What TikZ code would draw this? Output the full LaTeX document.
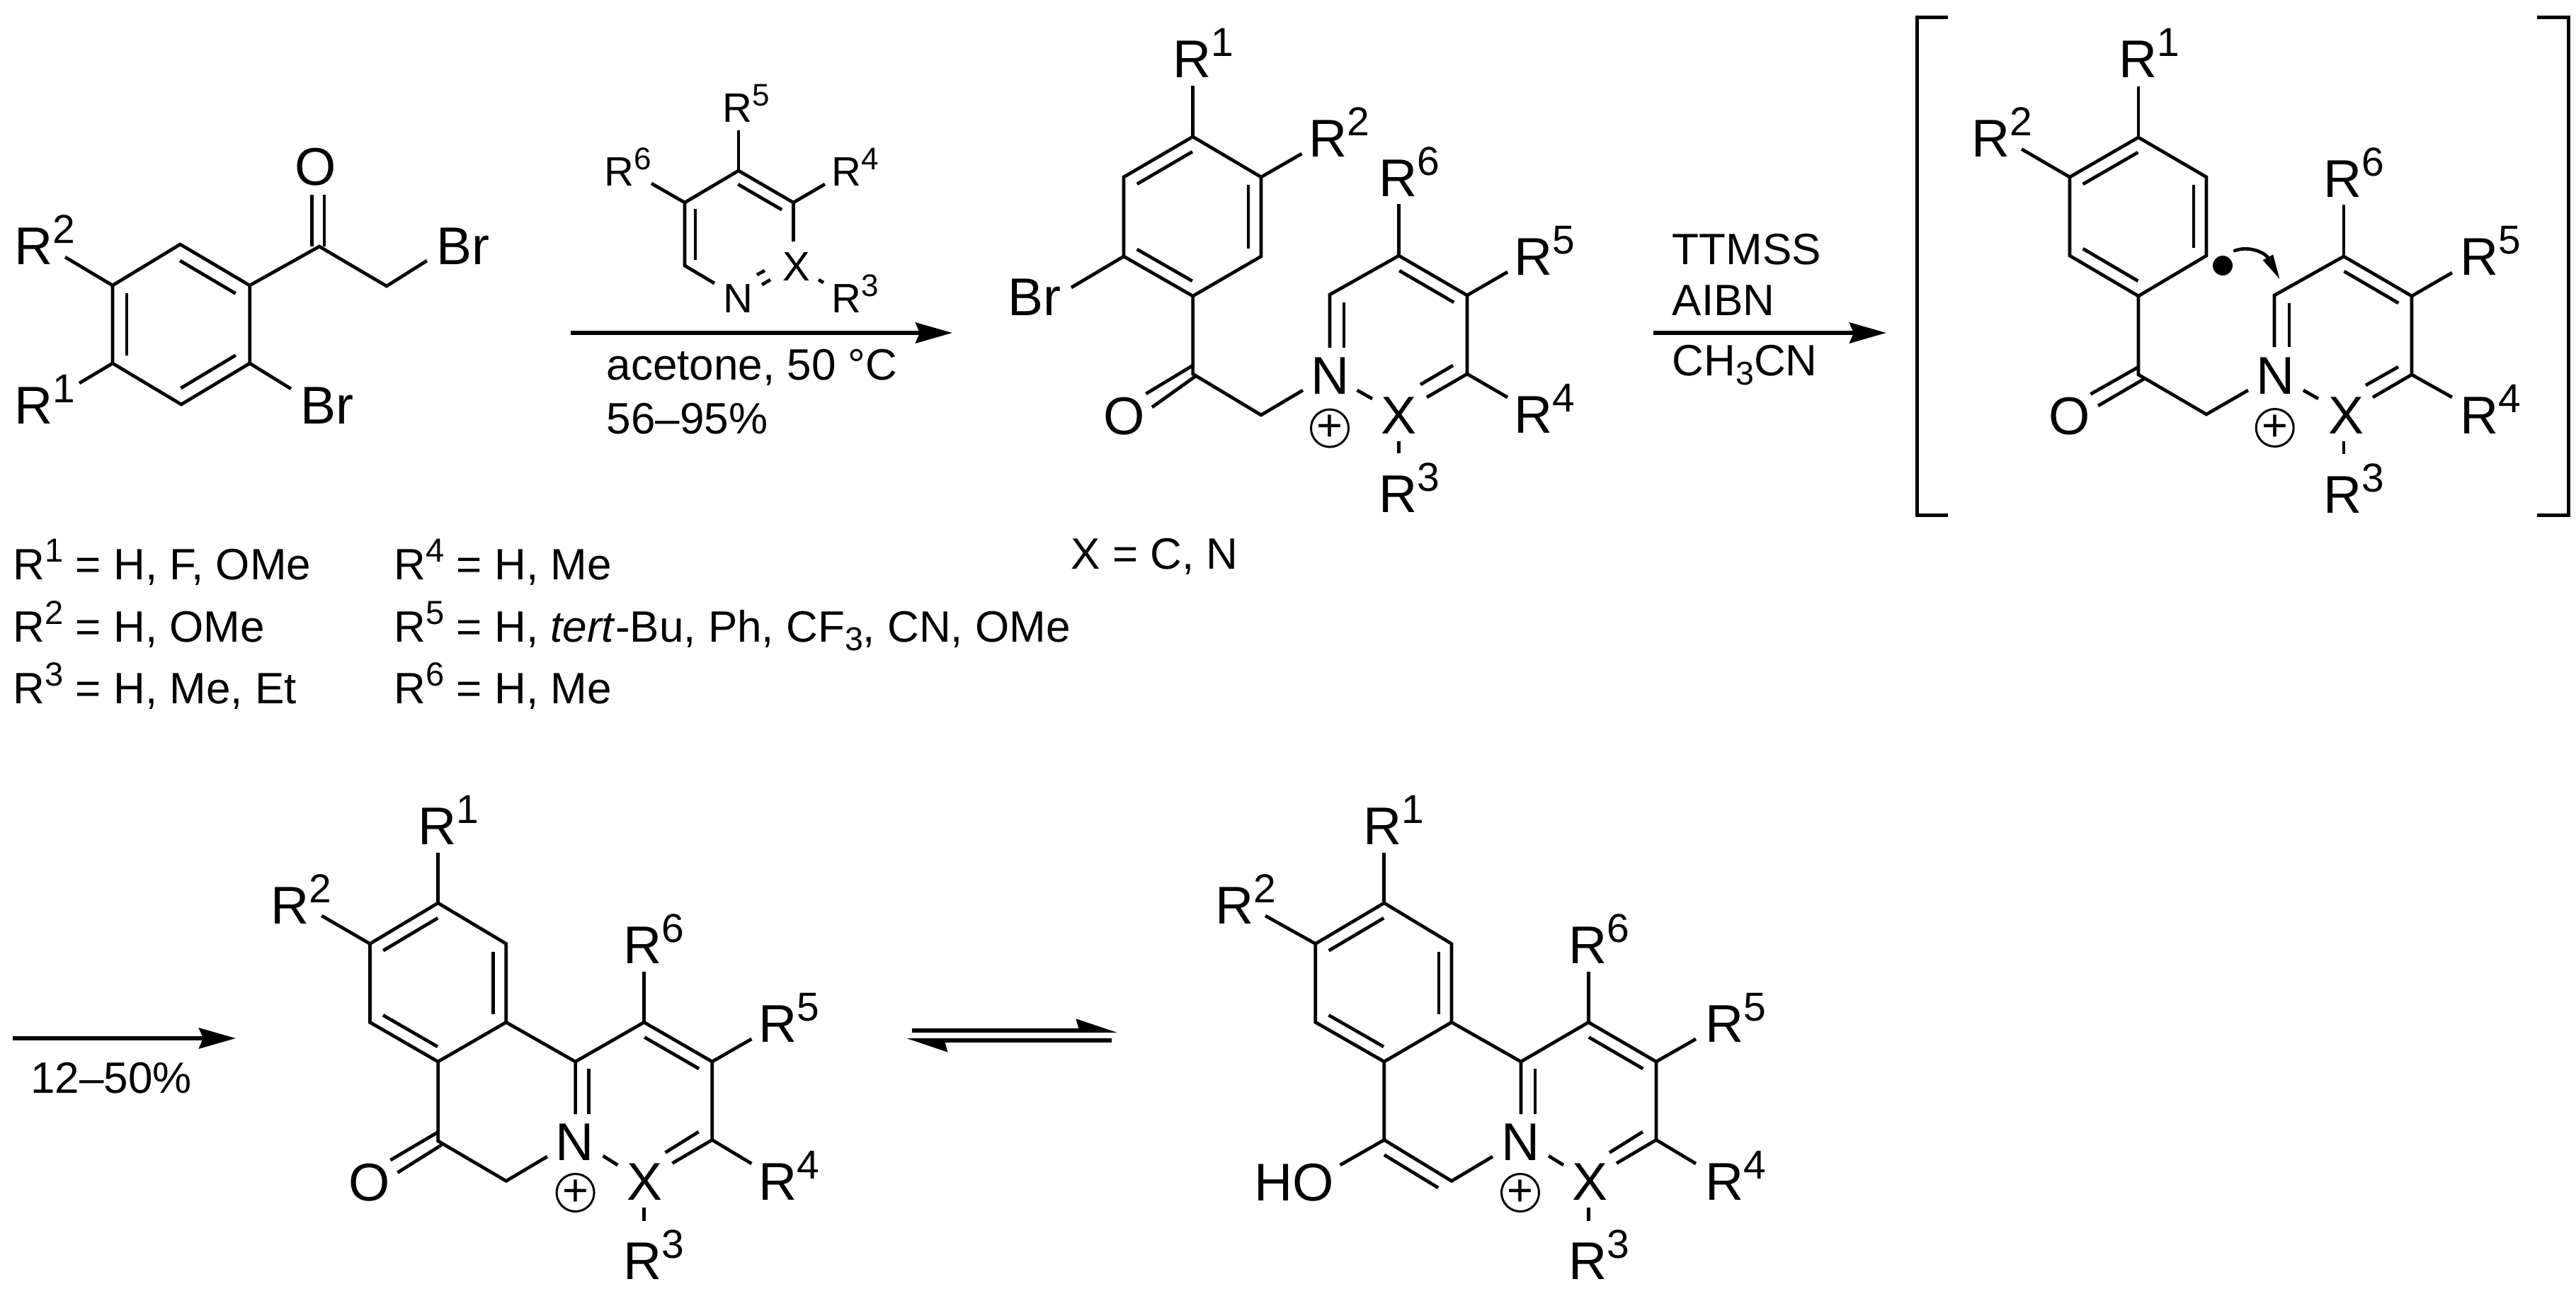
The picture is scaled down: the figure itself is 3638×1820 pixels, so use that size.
\documentclass[tikz,border=0pt]{standalone}
\usepackage{fontspec}
\setmainfont{Liberation Sans}
\usetikzlibrary{arrows.meta,calc}

\newcommand{\rg}[1]{R\raisebox{0.4em}{\scalebox{0.76}{#1}}}
\newcommand{\lowr}[1]{\raisebox{-0.2em}{\scalebox{0.75}{#1}}}
% inner line of a double bond, ring walked clockwise
\newcommand{\inbond}[3][2mm]{\draw[bond] ($(#2)!0.1!(#3)!#1!-90:(#3)$) -- ($(#3)!0.1!(#2)!#1!90:(#2)$);}

\tikzset{
	bond/.style={line width=0.47mm},
	rxn/.style={line width=0.55mm,-{Stealth[length=5.2mm,width=2.9mm,inset=0.6mm]}},
	eqm/.style={line width=0.58mm,-{Stealth[harpoon,length=4.9mm,width=3.2mm,inset=0.4mm]}},
	brk/.style={line width=0.5mm},
	atm/.style={anchor=base west,inner sep=0pt,xshift=-0.5mm,font=\fontsize{21.34}{24}\selectfont},
	sml/.style={anchor=base west,inner sep=0pt,xshift=-0.4mm,font=\fontsize{16.5}{18}\selectfont},
	txt/.style={anchor=base west,inner sep=0pt,xshift=-0.3mm,font=\fontsize{17.64}{20}\selectfont},
	chg/.style={circle,draw,line width=0.3mm,minimum size=5.3mm,inner sep=0pt,font=\fontsize{18}{18}\selectfont},
}

\begin{document}
\begin{tikzpicture}[x=0.1mm,y=-0.1mm]
	\useasboundingbox (0,0) rectangle (3638,1820);

	% bromoketone
	\coordinate (a1) at (254.5,345);
	\coordinate (a2) at (352.7,403);
	\coordinate (a3) at (352.7,513);
	\coordinate (a4) at (256,571);
	\coordinate (a5) at (159,513);
	\coordinate (a6) at (159,403);
	\coordinate (ac) at (451,348);
	\coordinate (am) at (546,404);
	\coordinate (aoa) at (440.5,348);
	\coordinate (aob) at (440.5,275);
	\coordinate (aoc) at (458,348);
	\coordinate (aod) at (458,275);
	\coordinate (abr) at (603,368);
	\coordinate (arb) at (92,363);
	\coordinate (ara) at (112,541);
	\coordinate (abs) at (411,549);
	\node[atm] (aO) at (421,262) {O};
	\node[atm] (aBr) at (621,374) {Br};
	\node[atm] (aR2) at (25,374) {\rg{2}};
	\node[atm] (aR1) at (25,598) {\rg{1}};
	\node[atm] (aBs) at (429,598) {Br};
	\draw[bond] (a1)--(a2)--(a3)--(a4)--(a5)--(a6)--cycle;
	\inbond{a1}{a2}
	\inbond{a3}{a4}
	\inbond{a5}{a6}
	\draw[bond] (a2)--(ac)--(am)--(abr);
	\draw[bond] (aoa)--(aob);
	\draw[bond] (aoc)--(aod);
	\draw[bond] (a6)--(arb);
	\draw[bond] (a5)--(ara);
	\draw[bond] (a3)--(abs);

	% reagent above the first arrow
	\coordinate (p1) at (1043,241);
	\coordinate (p2) at (1120.5,286);
	\coordinate (p3) at (967,286);
	\coordinate (p4) at (967,375);
	\coordinate (p5) at (1120.5,341);
	\coordinate (p6) at (1009,400);
	\coordinate (pr5) at (1043,184);
	\coordinate (pr6) at (920,259);
	\coordinate (pr4) at (1165,260);
	\coordinate (pia) at (982,295);
	\coordinate (pib) at (982,367);
	\coordinate (pda) at (1080,382);
	\coordinate (pdb) at (1069,388);
	\coordinate (pdc) at (1088,395);
	\coordinate (pdd) at (1076,402);
	\coordinate (pxa) at (1156,395);
	\coordinate (pxb) at (1163,399);
	\node[sml] (pN) at (1025,441) {N};
	\node[sml] (pX) at (1109,397) {X};
	\node[sml] (pR3) at (1178,442) {\rg{3}};
	\node[sml] (pR4) at (1178,263) {\rg{4}};
	\node[sml] (pR5) at (1024,173) {\rg{5}};
	\node[sml] (pR6) at (857,263) {\rg{6}};
	\draw[bond] (p5)--(p2)--(p1)--(p3)--(p4)--(p6);
	\inbond[1.7mm]{p1}{p2}
	\draw[bond] (pia)--(pib);
	\draw[bond] (p1)--(pr5);
	\draw[bond] (p3)--(pr6);
	\draw[bond] (p2)--(pr4);
	\draw[bond] (pda)--(pdb);
	\draw[bond] (pdc)--(pdd);
	\draw[bond] (pxa)--(pxb);

	% first arrow
	\coordinate (ra) at (806,470);
	\coordinate (rb) at (1345,470);
	\draw[rxn] (ra)--(rb);
	\node[txt] (cond) at (859,536) {acetone, 50 °C};
	\node[txt] (yld) at (859,612) {56–95\%};

	% substituent list
	\node[txt] (l1) at (21,818) {\rg{1} = H, F, OMe};
	\node[txt] (l2) at (21,906) {\rg{2} = H, OMe};
	\node[txt] (l3) at (21,993) {\rg{3} = H, Me, Et};
	\node[txt] (l4) at (559,818) {\rg{4} = H, Me};
	\node[txt] (l5) at (559,906) {\rg{5} = H, \textit{tert}-Bu, Ph, CF\lowr{3}, CN, OMe};
	\node[txt] (l6) at (559,993) {\rg{6} = H, Me};
	\node[txt] (lx) at (1515,803) {X = C, N};

	% salt
	\coordinate (s1) at (1684.6,193);
	\coordinate (s2) at (1781,250);
	\coordinate (s3) at (1781,362);
	\coordinate (s4) at (1684.6,418);
	\coordinate (s5) at (1587,362);
	\coordinate (s6) at (1587,250);
	\coordinate (sc) at (1684.6,528);
	\coordinate (sm) at (1781,586);
	\coordinate (sn) at (1840,551);
	\coordinate (soa) at (1684.6,516);
	\coordinate (sob) at (1618.4,556);
	\coordinate (soc) at (1688.6,531);
	\coordinate (sod) at (1627,575);
	\coordinate (sr1) at (1684.6,121);
	\coordinate (sr2) at (1838.5,217);
	\coordinate (sbr) at (1513,406);
	\coordinate (t1) at (1975.6,361);
	\coordinate (t2) at (2072,417);
	\coordinate (t3) at (2072,528);
	\coordinate (t4) at (1878,416);
	\coordinate (tna) at (1878,491);
	\coordinate (tia) at (1898,427);
	\coordinate (tib) at (1898,491);
	\coordinate (txa) at (1916.6,551);
	\coordinate (txb) at (1938,563);
	\coordinate (txc) at (2015,561);
	\coordinate (txd) at (2052,516);
	\coordinate (txe) at (2006,543);
	\coordinate (tr4) at (2129,561);
	\coordinate (tr5) at (2129,384);
	\coordinate (tr6) at (1975.6,288);
	\coordinate (tra) at (1975.6,623);
	\coordinate (trb) at (1975.6,640);
	\node[atm] (sO) at (1563,613) {O};
	\node[atm] (sBr) at (1428,445) {Br};
	\node[atm] (sR1) at (1660.7,110) {\rg{1}};
	\node[atm] (sR2) at (1853,222) {\rg{2}};
	\node[atm] (sN) at (1856,556) {N};
	\node[atm] (sX) at (1955,612) {X};
	\node[atm] (sR3) at (1951.7,723) {\rg{3}};
	\node[atm] (sR4) at (2143,611) {\rg{4}};
	\node[atm] (sR5) at (2143,389) {\rg{5}};
	\node[atm] (sR6) at (1951.7,278) {\rg{6}};
	\node[chg] (splus) at (1878,604.6) {+};
	\draw[bond] (s1)--(s2)--(s3)--(s4)--(s5)--(s6)--cycle;
	\inbond[1.8mm]{s6}{s1}
	\inbond[1.8mm]{s2}{s3}
	\inbond[1.8mm]{s4}{s5}
	\draw[bond] (s4)--(sc)--(sm)--(sn);
	\draw[bond] (soa)--(sob);
	\draw[bond] (soc)--(sod);
	\draw[bond] (s1)--(sr1);
	\draw[bond] (s2)--(sr2);
	\draw[bond] (s5)--(sbr);
	\draw[bond] (tna)--(t4)--(t1)--(t2)--(t3)--(txc);
	\inbond[1.8mm]{t1}{t2}
	\draw[bond] (tia)--(tib);
	\draw[bond] (txa)--(txb);
	\draw[bond] (txd)--(txe);
	\draw[bond] (t3)--(tr4);
	\draw[bond] (t2)--(tr5);
	\draw[bond] (t1)--(tr6);
	\draw[bond] (tra)--(trb);

	% second arrow
	\coordinate (rc) at (2335,470);
	\coordinate (rd) at (2664,470);
	\draw[rxn] (rc)--(rd);
	\node[txt] (ttm) at (2364,374) {TTMSS};
	\node[txt] (aib) at (2364,446) {AIBN};
	\node[txt] (mcn) at (2364,531) {CH\lowr{3}CN};

	% brackets
	\coordinate (ba) at (2751,25);
	\coordinate (bb) at (2707,25);
	\coordinate (bc) at (2707,727);
	\coordinate (bd) at (2751,727);
	\coordinate (be) at (3583,25);
	\coordinate (bf) at (3627,25);
	\coordinate (bg) at (3627,727);
	\coordinate (bh) at (3583,727);
	\draw[brk] (ba)--(bb)--(bc)--(bd);
	\draw[brk] (be)--(bf)--(bg)--(bh);

	% radical
	\coordinate (u1) at (3020,194);
	\coordinate (u2) at (3116,250);
	\coordinate (u3) at (3116,361);
	\coordinate (u4) at (3020,418);
	\coordinate (u5) at (2923,361);
	\coordinate (u6) at (2923,250);
	\coordinate (uc) at (3020,529);
	\coordinate (um) at (3116,585);
	\coordinate (un) at (3175,551);
	\coordinate (uoa) at (3018.6,519);
	\coordinate (uob) at (2952.5,556.5);
	\coordinate (uoc) at (3028,535);
	\coordinate (uod) at (2963,573);
	\coordinate (ur1) at (3020,122);
	\coordinate (ur2) at (2855,210.5);
	\coordinate (v1) at (3310,362);
	\coordinate (v2) at (3406,418);
	\coordinate (v3) at (3406,529);
	\coordinate (v4) at (3212,417);
	\coordinate (vna) at (3212,490);
	\coordinate (via) at (3233,428);
	\coordinate (vib) at (3233,490);
	\coordinate (vxa) at (3253,551);
	\coordinate (vxb) at (3274,563);
	\coordinate (vxc) at (3351,561);
	\coordinate (vxd) at (3387,518);
	\coordinate (vxe) at (3341,544);
	\coordinate (vr4) at (3463,561);
	\coordinate (vr5) at (3463,385);
	\coordinate (vr6) at (3310,289.5);
	\coordinate (vra) at (3310,623);
	\coordinate (vrb) at (3310,641);
	\coordinate (cva) at (3156,354);
	\coordinate (cvb) at (3178,346);
	\coordinate (cvc) at (3200,358);
	\coordinate (cvd) at (3220,395);
	\node[atm] (uO) at (2898,613) {O};
	\node[atm] (uR1) at (2996.6,110) {\rg{1}};
	\node[atm] (uR2) at (2788.6,221.5) {\rg{2}};
	\node[atm] (uN) at (3191,556.5) {N};
	\node[atm] (uX) at (3293,612) {X};
	\node[atm] (uR3) at (3286,724) {\rg{3}};
	\node[atm] (uR4) at (3478.6,612) {\rg{4}};
	\node[atm] (uR5) at (3478.6,388.5) {\rg{5}};
	\node[atm] (uR6) at (3286,278.5) {\rg{6}};
	\node[chg] (uplus) at (3212.7,604) {+};
	\node[circle,fill,minimum size=2.8mm,inner sep=0pt] (udot) at (3139,375) {};
	\draw[bond] (u1)--(u2)--(u3)--(u4)--(u5)--(u6)--cycle;
	\inbond[1.8mm]{u6}{u1}
	\inbond[1.8mm]{u2}{u3}
	\inbond[1.8mm]{u4}{u5}
	\draw[bond] (u4)--(uc)--(um)--(un);
	\draw[bond] (uoa)--(uob);
	\draw[bond] (uoc)--(uod);
	\draw[bond] (u1)--(ur1);
	\draw[bond] (u6)--(ur2);
	\draw[bond] (vna)--(v4)--(v1)--(v2)--(v3)--(vxc);
	\inbond[1.8mm]{v1}{v2}
	\draw[bond] (via)--(vib);
	\draw[bond] (vxa)--(vxb);
	\draw[bond] (vxd)--(vxe);
	\draw[bond] (v3)--(vr4);
	\draw[bond] (v2)--(vr5);
	\draw[bond] (v1)--(vr6);
	\draw[bond] (vra)--(vrb);
	\draw[bond,line cap=round,-{Stealth[length=3.6mm,width=1.5mm,inset=0pt]}] (cva) .. controls (cvb) and (cvc) .. (cvd);

	% third arrow
	\coordinate (re) at (18,1466);
	\coordinate (rf) at (333,1466);
	\draw[rxn] (re)--(rf);
	\node[txt] (yldb) at (45.6,1543.4) {12–50\%};

	% ketone
	\coordinate (k1) at (618.6,1275);
	\coordinate (k2) at (714.8,1332.5);
	\coordinate (k3) at (714.8,1443.4);
	\coordinate (k4) at (618.6,1499);
	\coordinate (k5) at (522.4,1443.4);
	\coordinate (k6) at (522.4,1332.5);
	\coordinate (kc) at (618.6,1611);
	\coordinate (km) at (714.8,1667.5);
	\coordinate (kn) at (772.8,1633);
	\coordinate (koa) at (617.7,1599);
	\coordinate (kob) at (551.4,1638);
	\coordinate (koc) at (623.6,1616.6);
	\coordinate (kod) at (561.4,1655.7);
	\coordinate (kr1) at (618.6,1203.6);
	\coordinate (kr2) at (454.4,1293);
	\coordinate (q1) at (812.6,1499);
	\coordinate (q2) at (909.6,1443.4);
	\coordinate (q3) at (1005.8,1499);
	\coordinate (q4) at (1005.8,1609.5);
	\coordinate (qna) at (812.6,1573);
	\coordinate (qia) at (831.7,1509);
	\coordinate (qib) at (831.7,1573);
	\coordinate (qxa) at (851.6,1632);
	\coordinate (qxb) at (872.3,1645);
	\coordinate (qxc) at (949.4,1642.5);
	\coordinate (qxd) at (986.7,1598);
	\coordinate (qxe) at (939.5,1627.4);
	\coordinate (qr4) at (1061.4,1643);
	\coordinate (qr5) at (1061.4,1467);
	\coordinate (qr6) at (909.6,1371.6);
	\coordinate (qra) at (909.6,1705);
	\coordinate (qrb) at (909.6,1724);
	\node[atm] (kO) at (497,1695) {O};
	\node[atm] (kR1) at (594.5,1192) {\rg{1}};
	\node[atm] (kR2) at (387,1304) {\rg{2}};
	\node[atm] (qN) at (789,1638) {N};
	\node[atm] (qX) at (890,1694.4) {X};
	\node[atm] (qR3) at (884.7,1806) {\rg{3}};
	\node[atm] (qR4) at (1076,1694.4) {\rg{4}};
	\node[atm] (qR5) at (1076,1471.7) {\rg{5}};
	\node[atm] (qR6) at (884.7,1360) {\rg{6}};
	\node[chg] (qplus) at (812.6,1684) {+};
	\draw[bond] (k1)--(k2)--(k3)--(k4)--(k5)--(k6)--cycle;
	\inbond[1.8mm]{k6}{k1}
	\inbond[1.8mm]{k2}{k3}
	\inbond[1.8mm]{k4}{k5}
	\draw[bond] (k4)--(kc)--(km)--(kn);
	\draw[bond] (koa)--(kob);
	\draw[bond] (koc)--(kod);
	\draw[bond] (k1)--(kr1);
	\draw[bond] (k6)--(kr2);
	\draw[bond] (k3)--(q1);
	\draw[bond] (qna)--(q1)--(q2)--(q3)--(q4)--(qxc);
	\inbond[1.8mm]{q2}{q3}
	\draw[bond] (qia)--(qib);
	\draw[bond] (qxa)--(qxb);
	\draw[bond] (qxd)--(qxe);
	\draw[bond] (q4)--(qr4);
	\draw[bond] (q3)--(qr5);
	\draw[bond] (q2)--(qr6);
	\draw[bond] (qra)--(qrb);

	% equilibrium arrows
	\coordinate (ea) at (1288,1455);
	\coordinate (eb) at (1578,1455);
	\coordinate (ec) at (1570,1469);
	\coordinate (ed) at (1280,1469);
	\draw[eqm] (ea)--(eb);
	\draw[eqm] (ec)--(ed);

	% enol
	\coordinate (e1) at (1954.8,1275);
	\coordinate (e2) at (2050,1332.5);
	\coordinate (e3) at (2050,1443.4);
	\coordinate (e4) at (1954.8,1499);
	\coordinate (e5) at (1857.8,1443.4);
	\coordinate (e6) at (1857.8,1332.5);
	\coordinate (ec1) at (1954.8,1609.5);
	\coordinate (em) at (2050,1667.5);
	\coordinate (en) at (2108,1633);
	\coordinate (eo) at (1892.6,1645);
	\coordinate (er1) at (1954.8,1203.6);
	\coordinate (er2) at (1787,1293);
	\coordinate (f1) at (2148,1499);
	\coordinate (f2) at (2243.4,1443.4);
	\coordinate (f3) at (2339,1499);
	\coordinate (f4) at (2339,1609.5);
	\coordinate (fna) at (2148,1573);
	\coordinate (fia) at (2168,1509);
	\coordinate (fib) at (2168,1573);
	\coordinate (fxa) at (2187,1632);
	\coordinate (fxb) at (2208,1645);
	\coordinate (fxc) at (2283,1642.5);
	\coordinate (fxd) at (2320,1598);
	\coordinate (fxe) at (2273,1627.4);
	\coordinate (fr4) at (2395,1643);
	\coordinate (fr5) at (2395,1467);
	\coordinate (fr6) at (2243.4,1371.6);
	\coordinate (fra) at (2243.4,1705);
	\coordinate (frb) at (2243.4,1724);
	\node[atm] (eHO) at (1776,1695) {HO};
	\node[atm] (eR1) at (1930,1192) {\rg{1}};
	\node[atm] (eR2) at (1721,1304) {\rg{2}};
	\node[atm] (fN) at (2125,1638) {N};
	\node[atm] (fX) at (2225,1694.4) {X};
	\node[atm] (fR3) at (2220,1806) {\rg{3}};
	\node[atm] (fR4) at (2413,1694.4) {\rg{4}};
	\node[atm] (fR5) at (2413,1471.7) {\rg{5}};
	\node[atm] (fR6) at (2220,1360) {\rg{6}};
	\node[chg] (fplus) at (2147,1684) {+};
	\draw[bond] (e1)--(e2)--(e3)--(e4)--(e5)--(e6)--cycle;
	\inbond[1.8mm]{e6}{e1}
	\inbond[1.8mm]{e2}{e3}
	\inbond[1.8mm]{e4}{e5}
	\draw[bond] (e4)--(ec1)--(em)--(en);
	\inbond[1.8mm]{ec1}{em}
	\draw[bond] (ec1)--(eo);
	\draw[bond] (e1)--(er1);
	\draw[bond] (e6)--(er2);
	\draw[bond] (e3)--(f1);
	\draw[bond] (fna)--(f1)--(f2)--(f3)--(f4)--(fxc);
	\inbond[1.8mm]{f2}{f3}
	\draw[bond] (fia)--(fib);
	\draw[bond] (fxa)--(fxb);
	\draw[bond] (fxd)--(fxe);
	\draw[bond] (f4)--(fr4);
	\draw[bond] (f3)--(fr5);
	\draw[bond] (f2)--(fr6);
	\draw[bond] (fra)--(frb);
\end{tikzpicture}
\end{document}
